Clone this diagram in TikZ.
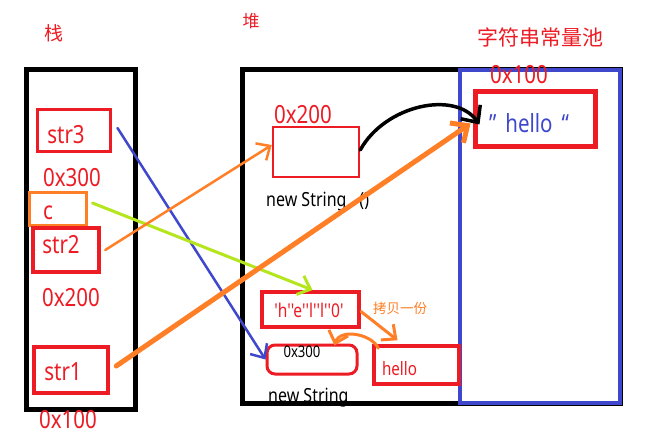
\documentclass[tikz,border=0pt]{standalone}
\usepackage{fontspec}
\setmainfont{Noto Sans}[FakeStretch=0.82, Ligatures=TeXOff]
\newfontfamily\cjk{Noto Sans CJK SC}
\usetikzlibrary{arrows.meta,calc}
\definecolor{pred}{HTML}{ED1C24}
\definecolor{porange}{HTML}{FF7F27}
\definecolor{pblue}{HTML}{3F48CC}
\definecolor{pgreen}{HTML}{B5E61D}
\tikzset{
  bigtxt/.style={font=\fontsize{25}{30}\selectfont, text=pred, inner sep=0pt},
  midtxt/.style={font=\fontsize{19.5}{24}\selectfont, inner sep=0pt},
  cjktxt/.style={font=\cjk\fontsize{#1}{#1}\selectfont, text=pred, inner sep=0pt},
  rbox/.style={draw=pred, line width=#1, inner sep=0pt},
  barb/.style={-{Straight Barb[length=11pt,width=20pt]}, line cap=round, line join=round},
  bigbarb/.style={-{Straight Barb[length=13pt,width=24pt]}, line cap=round, line join=round},
}
\begin{document}
\begin{tikzpicture}[x=1pt,y=-1pt]
\useasboundingbox (0,0) rectangle (667,433);
\fill[white] (0,0) rectangle (667,433);

% titles
\node[cjktxt=19] (tstack) at (54,33) {栈};
\node[cjktxt=17] (theap) at (251,21) {堆};
\node[cjktxt=21] (tpool) at (540,37) {字符串常量池};

% bottom heap text (partly hidden by the border)
\node[midtxt, anchor=base west] (tnew2) at (268,402) {new String};

% containers
\node[draw=black, line width=5pt, minimum width=109pt, minimum height=339pt, inner sep=0pt] (stack) at (80.5,239.5) {};
\node[draw=black, line width=5pt, minimum width=378pt, minimum height=333pt, inner sep=0pt] (heap) at (431,236.5) {};
\node[draw=pblue, line width=4pt, minimum width=160pt, minimum height=333pt, inner sep=0pt] (pool) at (540,236.5) {};

% stack boxes
\node[rbox=3pt, minimum width=73pt, minimum height=42pt] (str3) at (73.5,131) {};
\node[draw=porange, line width=3pt, minimum width=57pt, minimum height=32pt, inner sep=0pt] (cbox) at (57.5,209) {};
\node[rbox=4.5pt, minimum width=66pt, minimum height=44pt] (str2) at (66,250) {};
\node[rbox=4.5pt, minimum width=74pt, minimum height=46pt] (str1) at (71,370) {};

\node[bigtxt] (tstr3) at (66,135) {str3};
\node[bigtxt] (tc) at (48,213) {c};
\node[bigtxt] (tstr2) at (61,245) {str2};
\node[bigtxt] (tstr1) at (63,372) {str1};
\node[bigtxt] (a300) at (72,178) {0x300};
\node[bigtxt] (a200) at (71,298) {0x200};
\node[bigtxt] (a100) at (68,420) {0x100};

% heap boxes
\node[rbox=2.5pt, minimum width=86pt, minimum height=50pt] (newbox) at (316,152) {};
\node[bigtxt] (h200) at (303,115) {0x200};
\node[midtxt, anchor=base west] (tnew1) at (266,206) {new String\hspace{13pt}()};
\node[rbox=4pt, minimum width=97pt, minimum height=35pt] (heh) at (310.5,309.5) {};
\node[font=\fontsize{19}{23}\selectfont, inner sep=0pt, text=pred] (theh) at (309,310) {'h''e''l''l''0'};
\node[rbox=3pt, rounded corners=8pt, minimum width=90pt, minimum height=29pt] (addr300) at (312,359.5) {};
\node[font=\fontsize{16}{19}\selectfont, inner sep=0pt] (t300) at (302,352) {0x300};
\node[rbox=3.5pt, minimum width=85pt, minimum height=38pt] (hellosmall) at (416.5,365) {};
\node[font=\fontsize{18.5}{22}\selectfont, text=pred, inner sep=0pt] (thello2) at (399.5,369) {hello};
\node[font=\cjk\fontsize{13.5}{14}\selectfont, text=porange, inner sep=0pt] (tcopy) at (400,308) {拷贝一份};

% pool
\node[rbox=5pt, minimum width=120pt, minimum height=55pt] (poolhello) at (535,119.5) {};
\node[bigtxt] (p100) at (519,75) {0x100};
\node[font=\fontsize{25}{30}\selectfont, text=pblue, inner sep=0pt] (thello) at (529,123) {”\hspace{9pt}hello\hspace{9pt}“};

% connectors
\draw[pblue, line width=2.5pt, barb] ($(str3.east)+(6,-3)$) -- (addr300.west);
\draw[pgreen, line width=3pt, barb] ($(cbox.east)+(5,-6)$) -- ($(heh.north)+(2,0)$);
\draw[porange, line width=2.5pt, barb] ($(str2.east)+(4,0)$) -- ($(newbox.west)+(0,-7)$);
\draw[porange, line width=5pt, bigbarb] ($(str1.east)+(6,-4)$) -- ($(poolhello.west)+(-2,4)$);
\draw[black, line width=3.5pt, bigbarb] ($(newbox.east)+(0,-2)$) .. controls (385,105) and (455,90) .. ($(poolhello.west)+(7,5)$);
\draw[porange, line width=3pt, barb] ($(heh.east)+(0,2)$) -- ($(hellosmall.north)+(-19,-4)$);
\draw[porange, line width=3pt, barb] ($(hellosmall.north west)+(6,4)$) .. controls (372,334) and (340,328) .. ($(addr300.north east)+(-24,2)$);
\end{tikzpicture}
\end{document}
